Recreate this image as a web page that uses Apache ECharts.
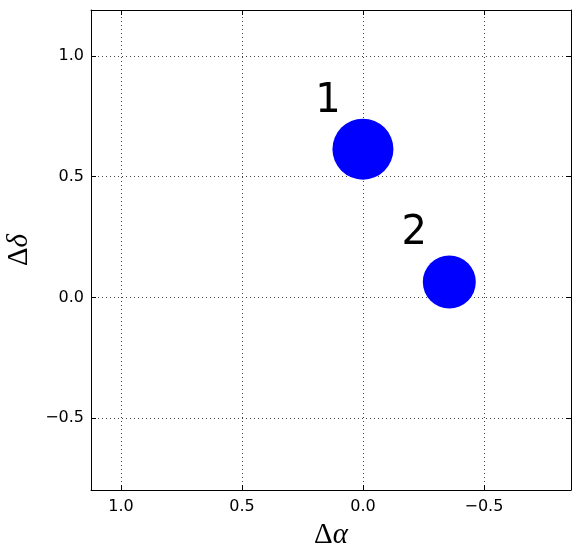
<!DOCTYPE html>
<html>
<head>
<meta charset="utf-8">
<script src="https://cdn.jsdelivr.net/npm/echarts@6/dist/echarts.min.js"></script>
<style>
  html, body { margin: 0; padding: 0; background: #fff; }
  #chart { width: 580px; height: 558px; }
</style>
</head>
<body>
<div id="chart"></div>
<script>
// source values
var names = ['1', '2'];
var dAlpha = [0.0, -0.357];
var dDelta = [0.614, 0.064];
var xTicks = [1.0, 0.5, 0.0, -0.5];
var yTicks = [1.0, 0.5, 0.0, -0.5];
var xRange = [-0.86, 1.124];
var yRange = [-0.797, 1.19];

var markerSize = [61, 53]; // pixel diameter of each dot

function fmt(v) {
  return v < 0 ? '\u2212' + Math.abs(v).toFixed(1) : v.toFixed(1);
}

var tickStyle = { show: true, inside: true, length: 5, lineStyle: { color: '#000', width: 1 } };
var lineStyle = { show: true, onZero: false, lineStyle: { color: '#000', width: 1 } };

function xAxisOf(pos, withLabels) {
  return {
    type: 'value',
    position: pos,
    min: xRange[0],
    max: xRange[1],
    inverse: true,
    axisLine: lineStyle,
    axisTick: Object.assign({ customValues: xTicks }, tickStyle),
    axisLabel: {
      show: withLabels,
      customValues: xTicks,
      formatter: fmt,
      color: '#000',
      fontSize: 16,
      fontFamily: 'DejaVu Sans',
      margin: 9
    },
    splitLine: { show: false }
  };
}

function yAxisOf(pos, withLabels) {
  return {
    type: 'value',
    position: pos,
    min: yRange[0],
    max: yRange[1],
    axisLine: lineStyle,
    axisTick: Object.assign({ customValues: yTicks }, tickStyle),
    axisLabel: {
      show: withLabels,
      customValues: yTicks,
      formatter: fmt,
      color: '#000',
      fontSize: 16,
      fontFamily: 'DejaVu Sans',
      margin: 7
    },
    splitLine: { show: false }
  };
}

var nameRich = {
  u: { fontFamily: 'Liberation Serif', fontSize: 29, color: '#000' },
  i: { fontFamily: 'Liberation Serif', fontSize: 29, fontStyle: 'italic', color: '#000' }
};

var xMain = xAxisOf('bottom', true);
xMain.name = '{u|\u0394}{i|\u03b1}';
xMain.nameLocation = 'middle';
xMain.nameGap = 31;
xMain.nameTextStyle = { rich: nameRich };

var yMain = yAxisOf('left', true);
yMain.name = '{u|\u0394}{i|\u03b4}';
yMain.nameLocation = 'middle';
yMain.nameGap = 56;
yMain.nameTextStyle = { rich: nameRich };

var points = dAlpha.map(function (x, i) {
  return {
    value: [x, dDelta[i]],
    name: names[i],
    symbolSize: markerSize[i]
  };
});

var gridLines = xTicks.map(function (v) { return { xAxis: v }; })
  .concat(yTicks.map(function (v) { return { yAxis: v }; }));

var chart = echarts.init(document.getElementById('chart'));
chart.setOption({
  animation: false,
  backgroundColor: '#fff',
  grid: { left: 91, right: 9, top: 10, bottom: 68, outerBoundsMode: 'none', containLabel: false },
  xAxis: [xMain, xAxisOf('top', false)],
  yAxis: [yMain, yAxisOf('right', false)],
  series: [{
    type: 'scatter',
    xAxisIndex: 0,
    yAxisIndex: 0,
    data: points,
    itemStyle: { color: '#0000ff', opacity: 1 },
    label: {
      show: true,
      position: 'inside',
      offset: [-35, -48],
      formatter: function (p) { return p.name; },
      color: '#000',
      fontSize: 40,
      fontFamily: 'DejaVu Sans'
    },
    markLine: {
      silent: true,
      symbol: 'none',
      label: { show: false },
      lineStyle: { color: '#444', width: 1, type: [1, 3] },
      data: gridLines,
      z: 0
    },
    z: 3
  }]
});
</script>
</body>
</html>
